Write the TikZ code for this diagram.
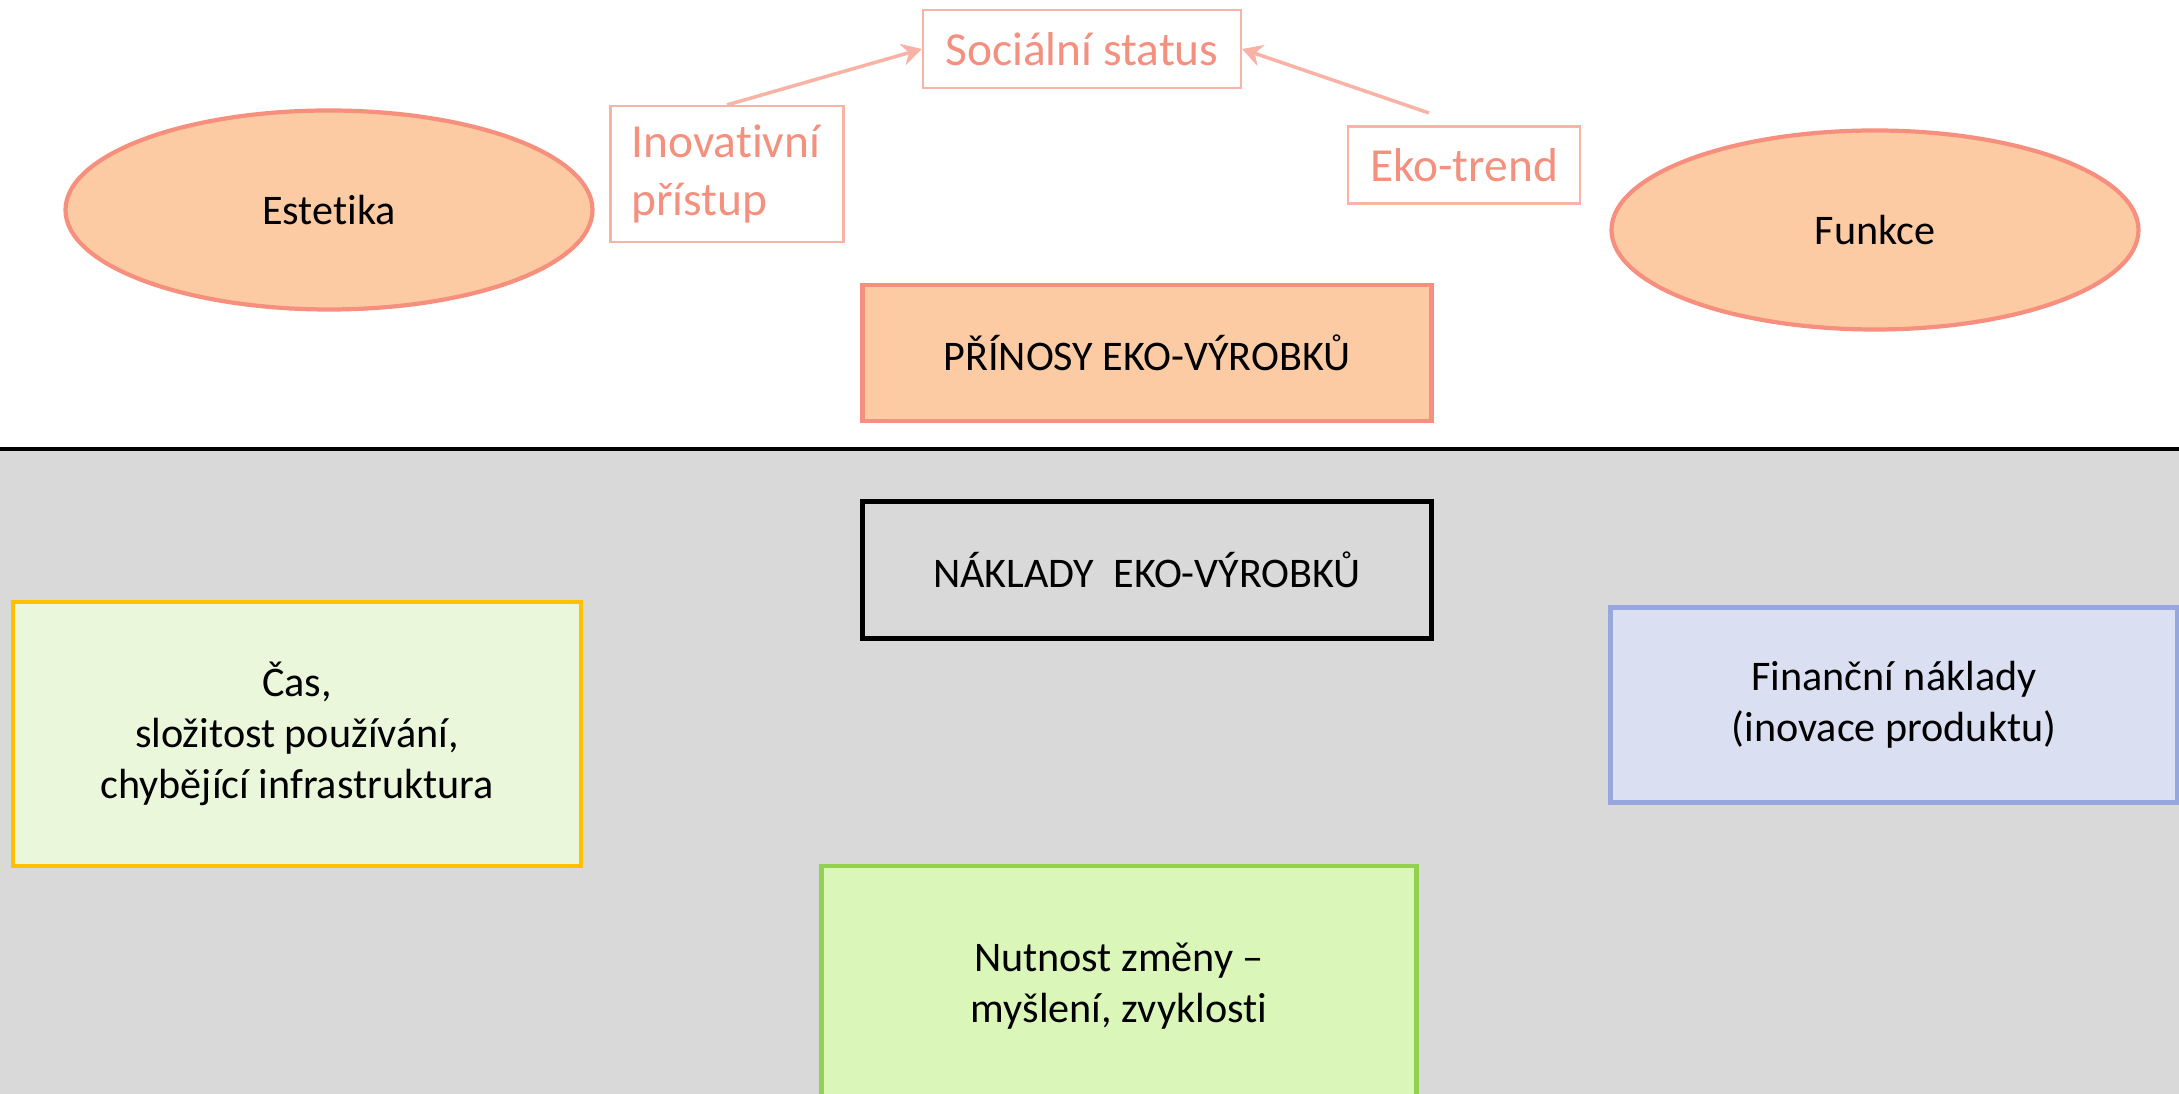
\documentclass[tikz,border=0pt]{standalone}
\usepackage{fontspec}
\setmainfont{Carlito}[Ligatures=NoCommon]
\usepackage{tikz}
\usetikzlibrary{arrows.meta,positioning,shapes.geometric,calc}
\definecolor{peach}{HTML}{FDCBA3}
\definecolor{salmonline}{HTML}{F78F7E}
\definecolor{salmonlight}{HTML}{F9B3A6}
\definecolor{salmontext}{HTML}{F4907E}
\definecolor{bggray}{HTML}{D9D9D9}
\definecolor{casfill}{HTML}{EBF7DA}
\definecolor{casline}{HTML}{FFC000}
\definecolor{finfill}{HTML}{DAE0F2}
\definecolor{finline}{HTML}{98A6DE}
\definecolor{nutfill}{HTML}{DAF6B8}
\definecolor{nutline}{HTML}{92D050}

\begin{document}
\begin{tikzpicture}[x=0.1mm,y=-0.1mm,
  benefit/.style={ellipse,draw=salmonline,fill=peach,line width=1.2pt,inner sep=0pt,
    minimum width=52.7mm,minimum height=19.9mm,font=\fontsize{12}{14.6}\selectfont},
  tag/.style={draw=salmonlight,line width=0.6pt,text=salmontext,inner sep=0pt,
    font=\fontsize{13.5}{16.5}\selectfont},
  costbox/.style={draw,line width=1.4pt,inner sep=0pt,align=center,
    font=\fontsize{12}{14.6}\selectfont},
  link/.style={draw=salmonlight,line width=1pt,-{Stealth[length=2mm,width=2.2mm]}}]
\useasboundingbox (0,0) rectangle (2179,1094);
\clip (0,0) rectangle (2179,1094);

% lower half
\fill[bggray] (0,449) rectangle (2179,1094);
\draw[line width=1.4pt] (0,449) -- (2179,449);

% benefits
\node[benefit] (estetika) at (329,210) {Estetika};
\node[benefit] (funkce) at (1875,230) {Funkce};
\node[costbox,draw=salmonline,fill=peach,minimum width=56.9mm,minimum height=13.6mm] (prinosy) at (1147,353) {PŘÍNOSY EKO-VÝROBKŮ};

\node[tag,minimum width=31.8mm,minimum height=7.8mm] (status) at (1082,49) {Sociální status};
\node[tag,text width=19.1mm,inner xsep=2.1mm,minimum height=13.6mm,align=left] (inovace) at (727,174) {Inovativní\\přístup};
\node[tag,minimum width=23.2mm,minimum height=7.7mm] (ekotrend) at (1464,165) {Eko-trend};
\coordinate (ekotail) at (1429,113);

\draw[link] (inovace.north) -- (status.west);
\draw[link] (ekotail) -- (status.east);

% costs
\node[costbox,fill=bggray,minimum width=56.9mm,minimum height=13.7mm] (naklady) at (1147,570) {NÁKLADY\ \ EKO-VÝROBKŮ};
\node[costbox,draw=casline,fill=casfill,minimum width=56.8mm,minimum height=26.4mm] (cas) at (297,734) {Čas,\\složitost používání,\\chybějící infrastruktura};
\node[costbox,draw=finline,fill=finfill,minimum width=56.7mm,minimum height=19.5mm] (financni) at (1894,705) {Finanční náklady\\(inovace produktu)};
\node[costbox,draw=nutline,fill=nutfill,minimum width=59.5mm,minimum height=24mm] (zmena) at (1119,986) {Nutnost změny --\\myšlení, zvyklosti};
\end{tikzpicture}
\end{document}
